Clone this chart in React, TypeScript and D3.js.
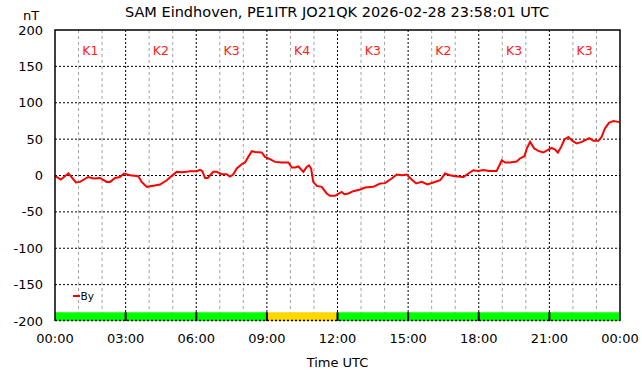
import React from "react";
import * as d3 from "d3";

const title = "SAM Eindhoven, PE1ITR JO21QK 2026-02-28 23:58:01 UTC";
const yTicks = [200, 150, 100, 50, 0, -50, -100, -150, -200];
const xTickLabels = ["00:00", "03:00", "06:00", "09:00", "12:00", "15:00", "18:00", "21:00", "00:00"];
const kLabels = ["K1", "K2", "K3", "K4", "K3", "K2", "K3", "K3"];
const kValues = [1, 2, 3, 4, 3, 2, 3, 3];

const hours = [
  0, 0.25, 0.57, 0.89, 1.06, 1.41, 1.63, 1.91, 2.2, 2.34, 2.55, 2.76, 2.93, 3.19, 3.54, 3.68, 3.9, 4.18, 4.46, 4.75,
  4.96, 5.17, 5.38, 5.59, 5.73, 6.02, 6.16, 6.26, 6.37, 6.49, 6.72, 6.87, 7.08, 7.29, 7.43, 7.57, 7.72, 7.93, 8.07,
  8.21, 8.36, 8.5, 8.78, 8.92, 9.13, 9.35, 9.63, 9.91, 10.06, 10.2, 10.34, 10.55, 10.69, 10.79, 10.88, 10.97, 11.12,
  11.33, 11.54, 11.68, 11.89, 12.03, 12.18, 12.29, 12.46, 12.67, 12.96, 13.17, 13.52, 13.81, 14.02, 14.3, 14.52,
  14.73, 14.94, 15.15, 15.34, 15.58, 15.82, 16.07, 16.36, 16.57, 16.78, 16.99, 17.35, 17.56, 17.77, 17.98, 18.19,
  18.45, 18.76, 18.98, 19.12, 19.33, 19.61, 19.75, 19.94, 20.04, 20.18, 20.36, 20.53, 20.74, 20.96, 21.1, 21.24,
  21.36, 21.5, 21.64, 21.81, 21.98, 22.16, 22.38, 22.69, 22.87, 23.08, 23.22, 23.36, 23.53, 23.72, 23.93, 24.0,
];
const byValues = [
  -0.5, -5.5, 3, -9.6, -8.8, -2, -4, -3.3, -8.8, -8.8, -3.3, -2, 2.7, 0.4, -1, -8.8, -15.6, -14, -12.4, -6.5,
  -0.5, 5, 4.5, 5, 6, 6, 7.7, 6, -3.3, -3.3, 5, 5, 1.8, 1.8, -1.4, 1.4, 9.6, 15.5, 17.9,
  25.6, 33.4, 32.4, 31.6, 25.6, 22.4, 18.7, 17.9, 17.9, 11, 11, 12.4, 5, 11.8, 14, 9.6, -8.8, -14.3,
  -15.6, -24.7, -28, -28, -25.3, -22.5, -25.7, -24.7, -21.6, -19.3, -16.5, -15.6, -11, -10.5, -4.1, 1.4,
  0.4, 1.4, -5.5, -11, -8.8, -12.4, -9.6, -6.5, 2.7, 0.4, -1, -2, 2.7, 7.3, 6.3, 7.7,
  6.3, 6.3, 21, 17.9, 17.9, 19.3, 23.4, 26.5, 37, 46.2, 37, 33.8, 31.6, 35.7, 38, 35.7,
  31.6, 39.3, 49.5, 53, 47.6, 44, 46.2, 51.3, 47.6, 47.6, 53, 64.6, 72.3, 75, 73.7, 73.5,
];

const W = 642;
const H = 376;
const L = 55;
const R = 620;
const T = 30;
const B = 321;
const font = "'DejaVu Sans', sans-serif";

export default function App() {
  const x = d3.scaleLinear().domain([0, 24]).range([L, R]);
  const y = d3.scaleLinear().domain([-200, 200]).range([B, T]);
  const line = d3
    .line<number>()
    .x((_, i) => x(hours[i]))
    .y((d) => y(d));
  const hourGrid = d3.range(1, 24).filter((h) => h % 3 !== 0);
  const majorGrid = d3.range(3, 24, 3);
  const barTop = y(-188);

  return (
    <svg width={W} height={H} style={{ position: "absolute", left: 0, top: 0, background: "#fff", fontFamily: font }}>
      <rect x={0} y={0} width={W} height={H} fill="#fff" />
      {hourGrid.map((h) => (
        <line key={"m" + h} x1={x(h)} x2={x(h)} y1={T} y2={B} stroke="#a0a0a0" strokeWidth={1} strokeDasharray="3,3" />
      ))}
      {majorGrid.map((h) => (
        <line key={"M" + h} x1={x(h)} x2={x(h)} y1={T} y2={B} stroke="#000" strokeWidth={1} strokeDasharray="2,2" />
      ))}
      {yTicks
        .filter((v) => v !== 200 && v !== -200)
        .map((v) => (
          <line key={"h" + v} x1={L} x2={R} y1={y(v)} y2={y(v)} stroke="#000" strokeWidth={1} strokeDasharray="2,2" />
        ))}
      {kValues.map((k, i) => (
        <rect
          key={"b" + i}
          x={x(i * 3)}
          y={barTop}
          width={x(3) - x(0)}
          height={B - barTop}
          fill={k >= 4 ? "#ffd700" : "#00ff00"}
        />
      ))}
      {majorGrid.map((h) => (
        <line key={"s" + h} x1={x(h)} x2={x(h)} y1={barTop} y2={B} stroke="#000" strokeWidth={2} />
      ))}
      <line x1={L} x2={R} y1={B - 0.5} y2={B - 0.5} stroke="#000" strokeWidth={1.5} strokeDasharray="2,2" />
      <path d={line(byValues) || ""} fill="none" stroke="#ff0000" strokeWidth={2} />
      <path d={`M${L},${B}V${T}H${R}V${B}`} fill="none" stroke="#000" strokeWidth={1.5} />
      {kLabels.map((k, i) => (
        <text key={"k" + i} x={x(i * 3 + 1.5)} y={55} fill="#ff2020" fontSize={12.5} textAnchor="middle">
          {k}
        </text>
      ))}
      {yTicks.map((v) => (
        <text key={"yt" + v} x={43} y={y(v) + 4.5} fontSize={13} textAnchor="end" fill="#000">
          {v}
        </text>
      ))}
      {xTickLabels.map((t, i) => (
        <text key={"xt" + i} x={x(i * 3)} y={342.5} fontSize={13} textAnchor="middle" fill="#000">
          {t}
        </text>
      ))}
      <text x={31} y={20} fontSize={13} textAnchor="middle" fill="#000">
        nT
      </text>
      <text x={337} y={17} fontSize={14.5} textAnchor="middle" fill="#000">
        {title}
      </text>
      <text x={x(12)} y={367} fontSize={13} textAnchor="middle" fill="#000">
        Time UTC
      </text>
      <line x1={73} x2={80} y1={296} y2={296} stroke="#ff0000" strokeWidth={2} />
      <text x={80.5} y={300} fontSize={10.5} fill="#000">
        By
      </text>
    </svg>
  );
}
